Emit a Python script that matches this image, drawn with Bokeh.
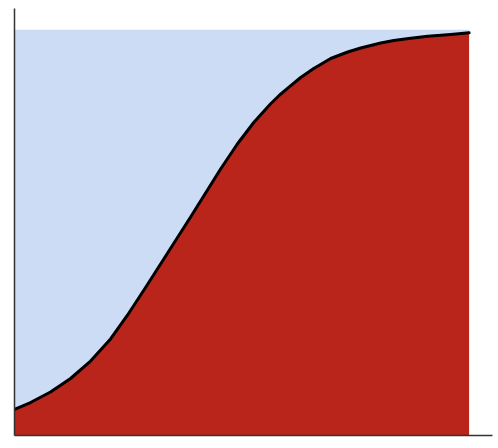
from bokeh.plotting import figure
from bokeh.models import Range1d, FixedTicker
from bokeh.embed import file_html
from bokeh.resources import INLINE

# Estimated points of the S-shaped curve (x in 0..1, y in 0..1)
xs = [0.0, 0.0352, 0.0792, 0.1233, 0.1673, 0.2113, 0.2481, 0.2883, 0.3361, 0.3874,
      0.4094, 0.4534, 0.4902, 0.5267, 0.5635, 0.5833, 0.6038, 0.6295, 0.6582,
      0.6956, 0.7330, 0.7616, 0.8056, 0.8343, 0.8717, 0.9091, 0.9597, 1.0]
ys = [0.0641, 0.0813, 0.1072, 0.1405, 0.1836, 0.2379, 0.2958, 0.3648, 0.4486, 0.5386,
      0.5780, 0.6569, 0.7185, 0.7722, 0.8176, 0.8393, 0.8585, 0.8824, 0.9046,
      0.9293, 0.9453, 0.9551, 0.9675, 0.9736, 0.9790, 0.9842, 0.9884, 0.9926]
top = [1.0] * len(xs)
bottom = [0.0] * len(xs)

p = figure(width=498, height=448, output_backend="svg", toolbar_location=None,
           x_range=Range1d(0, 1.0515), y_range=Range1d(0, 1.0525),
           min_border_left=14, min_border_right=6, min_border_top=8, min_border_bottom=13)
p.grid.visible = False
p.outline_line_color = None
p.background_fill_color = "white"

for ax in (p.xaxis[0], p.yaxis[0]):
    ax.ticker = FixedTicker(ticks=[])
    ax.major_label_text_font_size = "0px"
    ax.major_tick_out = 0
    ax.major_tick_in = 0
    ax.minor_tick_out = 0
    ax.minor_tick_in = 0
    ax.major_label_standoff = 0
    ax.axis_line_color = "#333333"
    ax.axis_line_width = 1.5

p.varea(x=xs, y1=ys, y2=top, fill_color="#CBDCF4")
p.varea(x=xs, y1=bottom, y2=ys, fill_color="#B9251A")
p.line(xs, ys, line_color="black", line_width=3, line_join="round", line_cap="round")

open("out.html", "w").write(file_html(p, INLINE))
